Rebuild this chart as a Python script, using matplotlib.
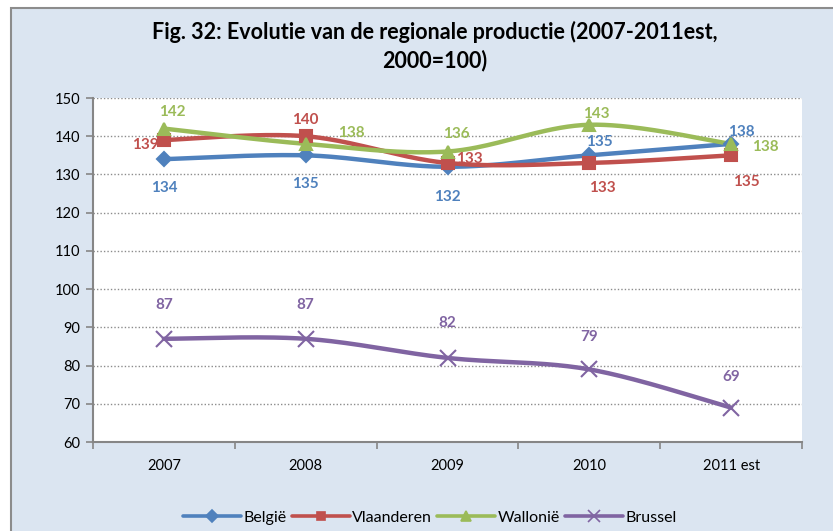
import numpy as np
import matplotlib.pyplot as plt
from matplotlib.patches import Rectangle

plt.rcParams['font.family'] = ['Lato', 'DejaVu Sans']

# ---- data ----
years = ["2007", "2008", "2009", "2010", "2011 est"]
belgie = [134, 135, 132, 135, 138]
vlaanderen = [139, 140, 133, 133, 135]
wallonie = [142, 138, 136, 143, 138]
brussel = [87, 87, 82, 79, 69]

# label offsets in pixels (dx, dy) per point
off_belgie = [(0, -29), (0, -29), (0, -30), (10, 13), (10, 12)]
off_vlaanderen = [(-19, -5), (0, 16), (22, 4), (13, -25), (15, -27)]
off_wallonie = [(8, 17), (46, 11), (9, 18), (7, 11), (34, -3)]
off_brussel = [(0, 34), (0, 34), (0, 35), (0, 32), (0, 31)]


def smooth(xs, ys, n=40):
    # bezier smoothing between points, like spreadsheet "smoothed line"
    p = np.column_stack([xs, ys]).astype(float)
    p = np.vstack([p[0], p, p[-1]])
    out = []
    for i in range(1, len(p) - 2):
        p0, p1, p2, p3 = p[i - 1], p[i], p[i + 1], p[i + 2]
        c1 = p1 + (p2 - p0) / 6
        c2 = p2 - (p3 - p1) / 6
        t = np.linspace(0, 1, n)[:, None]
        seg = ((1 - t) ** 3 * p1 + 3 * (1 - t) ** 2 * t * c1
               + 3 * (1 - t) * t ** 2 * c2 + t ** 3 * p2)
        out.append(seg)
    out = np.vstack(out)
    return out[:, 0], out[:, 1]


fig = plt.figure(figsize=(8.33, 5.31), dpi=100)
fig.patch.set_facecolor("white")
bg = Rectangle((11 / 833, -0.01), 1.0, 1 - 8 / 531 + 0.01, transform=fig.transFigure,
               facecolor="#DBE5F1", edgecolor="#8C8C8C", linewidth=1.5, zorder=-10)
fig.patches.append(bg)

ax = fig.add_axes([93 / 833, 1 - 442 / 531, (802 - 93) / 833, (442 - 98) / 531])
ax.set_facecolor("white")

x = np.arange(len(years))
series = [
    ("België", belgie, "#4F81BD", "D", 7.5, off_belgie),
    ("Vlaanderen", vlaanderen, "#C0504D", "s", 8.5, off_vlaanderen),
    ("Wallonië", wallonie, "#9BBB59", "^", 9, off_wallonie),
    ("Brussel", brussel, "#8064A2", "x", 11, off_brussel),
]

handles = []
for name, vals, col, mk, ms, offs in series:
    sx, sy = smooth(x, vals)
    ax.plot(sx, sy, color=col, lw=3.2, solid_capstyle="round", zorder=3)
    ax.plot(x, vals, linestyle="none", marker=mk, ms=ms, color=col,
            mew=1.5, zorder=4)
    h, = ax.plot([], [], color=col, lw=2.6, marker=mk, ms=ms * 0.75, mew=1.2,
                 solid_capstyle="round")
    handles.append(h)
    for xi, v, (dx, dy) in zip(x, vals, offs):
        ax.annotate(str(v), (xi, v), xytext=(dx, dy), textcoords="offset pixels",
                    ha="center", va="center", color=col, fontsize=11,
                    fontweight="bold", zorder=5)

ax.set_xlim(-0.5, len(years) - 0.5)
ax.set_ylim(60, 150)
ax.set_yticks(range(60, 151, 10))
ax.set_xticks(x)
ax.set_xticklabels(years)
ax.set_xticks(np.arange(-0.5, len(years), 1), minor=True)
ax.tick_params(axis="x", which="major", length=0, pad=12, labelsize=10.5)
ax.tick_params(axis="x", which="minor", length=5, color="#868686", width=1.2)
ax.tick_params(axis="y", length=5, color="#868686", width=1.2, labelsize=10.5, pad=4)
ax.yaxis.grid(True, linestyle=(0, (1, 1.5)), color="#8C8C8C", linewidth=1)
ax.set_axisbelow(True)
for s in ["top", "right"]:
    ax.spines[s].set_visible(False)
for s in ["left", "bottom"]:
    ax.spines[s].set_color("#868686")
    ax.spines[s].set_linewidth(1.5)

fig.text(435 / 833, 1 - 46 / 531, "Fig. 32: Evolutie van de regionale productie (2007-2011est,\n2000=100)",
         ha="center", va="center", fontsize=15.5, fontweight="bold", linespacing=1.35)

fig.legend(handles=handles, labels=[s[0] for s in series],
           loc="center", bbox_to_anchor=(0.516, 1 - 518 / 531), ncol=4,
           frameon=False, fontsize=11.5, handlelength=3.6, handletextpad=0.15,
           columnspacing=0.35)

fig.savefig("out.png", dpi=100)
